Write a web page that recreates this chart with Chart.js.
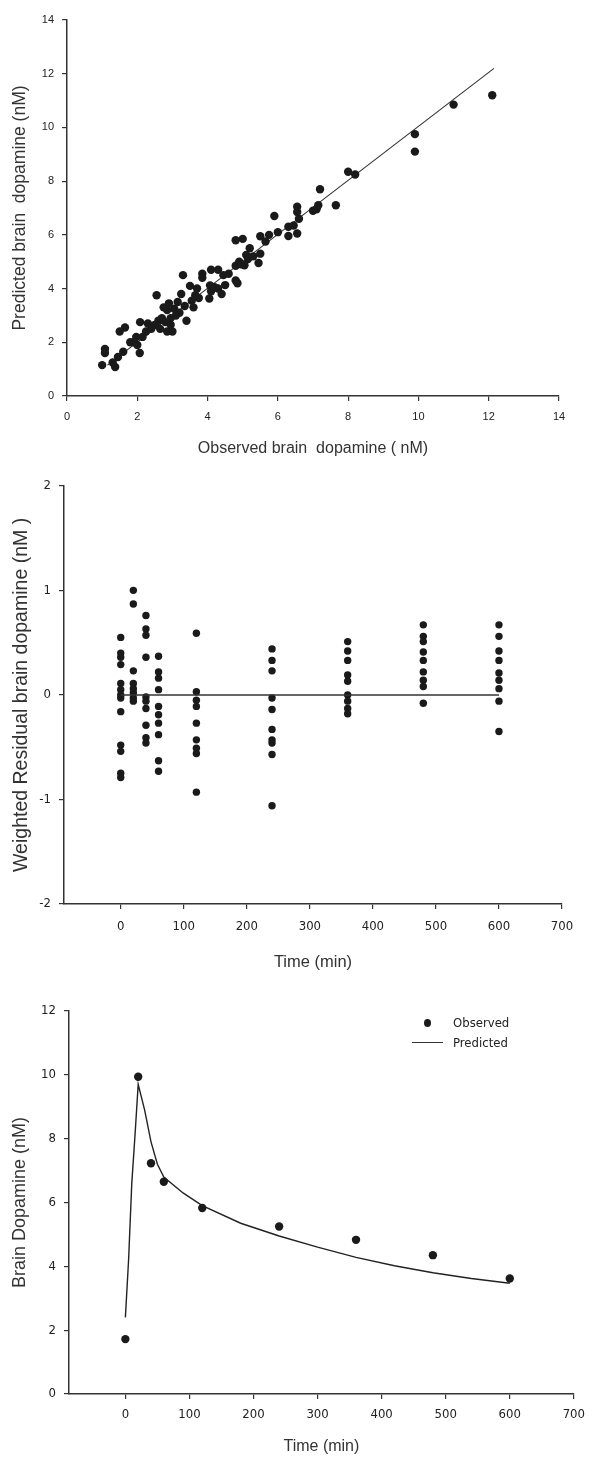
<!DOCTYPE html>
<html>
<head>
<meta charset="utf-8">
<script src="https://cdn.jsdelivr.net/npm/chart.js@4"></script>
<style>
  body { margin: 0; background: #fff; width: 593px; height: 1458px; position: relative; overflow: hidden; }
  canvas { position: absolute; left: 0; }
  .lg { position: absolute; font: 13px 'Liberation Sans Narrow', 'DejaVu Sans Condensed', 'Liberation Sans', sans-serif; color: #222; line-height: 14px; }
</style>
</head>
<body>
<canvas id="c1" width="593" height="470" style="top:0"></canvas>
<canvas id="c2" width="593" height="510" style="top:470px"></canvas>
<canvas id="c3" width="593" height="478" style="top:980px"></canvas>

<div class="lg" style="left:424px;top:1019px;width:7px;height:8px;background:#1a1a1a;border-radius:50%"></div>
<div class="lg" style="left:453px;top:1016px">Observed</div>
<div class="lg" style="left:412px;top:1042px;width:31px;height:1px;background:#333"></div>
<div class="lg" style="left:453px;top:1036px">Predicted</div>

<script>
// --- panel 1 : observed vs predicted
const observedDA = [12.1, 11.0, 9.9, 9.9, 8.0, 8.2, 7.2, 7.65, 7.1, 7.15, 5.9, 6.55, 6.55, 6.6, 6.3, 6.3, 6.55, 5.75, 5.5, 5.0,
  4.8, 5.65, 5.5, 5.45, 5.2, 5.1, 4.9, 5.05, 4.8, 4.8, 4.85, 4.1, 4.3, 4.45, 3.85, 3.85, 4.07, 4.1, 4.05, 4.3,
  4.5, 4.4, 3.3, 3.5, 3.7, 3.65, 3.6, 3.25, 3.4, 3.15, 3.05, 2.9, 2.85, 2.75, 2.55, 2.95, 2.8, 2.6, 2.5, 2.65,
  2.85, 3.0, 2.4, 2.3, 2.08, 2.25, 1.97, 2.0, 2.07, 1.8, 1.65, 1.5, 1.6, 1.45, 1.37, 1.08, 1.08, 1.0, 1.3,
  3.2, 3.35, 3.55, 3.75, 2.95, 2.7, 4.2, 4.6, 5.3, 5.15, 6.0, 6.45, 7.0, 1.9, 2.15, 3.1, 4.95];
const predictedDA = [11.2, 10.85, 9.75, 9.1, 8.35, 8.25, 7.7, 7.1, 6.95, 7.1, 6.7, 7.05, 6.85, 6.6, 6.3, 5.96, 6.05, 6.0, 5.95, 5.85,
  5.8, 5.75, 5.3, 4.95, 5.5, 5.25, 5.0, 4.87, 4.85, 4.3, 4.2, 4.7, 4.7, 4.5, 4.55, 4.4, 4.12, 3.9, 3.63, 4.0,
  4.13, 3.8, 4.5, 4.1, 4.0, 3.75, 3.3, 3.8, 2.8, 3.5, 3.25, 3.45, 3.2, 3.3, 3.75, 2.9, 2.75, 2.8, 2.65, 2.5,
  2.4, 2.4, 2.5, 2.7, 2.75, 2.4, 2.2, 1.9, 1.6, 2.0, 2.55, 2.4, 1.65, 1.45, 1.08, 1.75, 1.6, 1.15, 1.25,
  3.1, 3.35, 3.55, 3.65, 2.65, 2.9, 4.05, 4.55, 5.2, 5.1, 6.1, 6.35, 6.9, 2.0, 2.2, 3.0, 4.9];
const fitX = [1.15, 12.15];
const fitY = [1.15, 12.2];

// --- panel 2 : weighted residuals per sampling time
const residTimes = [0, 20, 40, 60, 120, 240, 360, 480, 600];
const residuals = [
  [0.55, 0.40, 0.36, 0.29, 0.11, 0.05, 0, -0.03, -0.16, -0.48, -0.54, -0.75, -0.79],
  [1.0, 0.87, 0.23, 0.11, 0.06, 0.02, -0.03, -0.06],
  [0.76, 0.63, 0.57, 0.36, -0.02, -0.06, -0.13, -0.29, -0.41, -0.46],
  [0.37, 0.22, 0.16, 0.05, -0.11, -0.19, -0.27, -0.38, -0.63, -0.73],
  [0.59, 0.03, -0.05, -0.11, -0.27, -0.43, -0.51, -0.56, -0.93],
  [0.44, 0.33, 0.23, -0.03, -0.14, -0.33, -0.43, -0.46, -0.57, -1.06],
  [0.51, 0.42, 0.33, 0.19, 0.13, 0, -0.06, -0.13, -0.18],
  [0.67, 0.56, 0.51, 0.41, 0.33, 0.22, 0.14, 0.08, -0.08],
  [0.67, 0.56, 0.42, 0.33, 0.21, 0.14, 0.06, -0.06, -0.35]
];
const zeroLineX = [0, 600];

// --- panel 3 : time course
const obsTime = [0, 20, 40, 60, 120, 240, 360, 480, 600];
const obsDA = [1.72, 9.94, 7.23, 6.65, 5.83, 5.25, 4.83, 4.35, 3.62];
const predTime = [0, 5, 10, 15, 20, 25, 30, 40, 50, 60, 90, 120, 180, 240, 300, 360, 420, 480, 540, 600];
const predDA = [2.4, 4.2, 6.6, 8.1, 9.7, 9.3, 8.9, 7.9, 7.2, 6.8, 6.3, 5.9, 5.35, 4.95, 4.6, 4.28, 4.02, 3.8, 3.62, 3.47];

const timeTicks = [0, 100, 200, 300, 400, 500, 600, 700];

const ink = '#1a1a1a';
const txt = '#222';
const tickFont = { family: "'Liberation Sans', Arial, sans-serif", size: 11 };
const narrowFont = { family: "'Liberation Sans Narrow', 'DejaVu Sans Condensed', 'Liberation Sans', sans-serif", size: 13 };
const titleFamily = "'Liberation Sans', Arial, sans-serif";

function axis(opts) {
  return {
    type: 'linear',
    min: opts.min, max: opts.max,
    grid: { drawOnChartArea: false, drawTicks: true, tickLength: 5, color: '#333', lineWidth: 1.2 },
    border: { display: true, color: '#333', width: 1.5 },
    ticks: { color: txt, font: opts.font, padding: opts.pad, stepSize: opts.step, maxRotation: 0 },
    title: { display: true, text: opts.title, color: '#333', font: { family: titleFamily, size: opts.tsize }, padding: opts.tpad },
    afterBuildTicks: opts.fixed ? (s => { s.ticks = opts.fixed.map(v => ({ value: v })); }) : undefined,
    afterFit: s => { if (opts.w) s.width = opts.w; if (opts.h) s.height = opts.h; }
  };
}

const base = {
  responsive: false,
  animation: false,
  plugins: { legend: { display: false }, tooltip: { enabled: false } }
};

new Chart(document.getElementById('c1'), {
  type: 'scatter',
  data: {
    datasets: [
      {
        data: observedDA.map((x, i) => ({ x: x, y: predictedDA[i] })),
        pointRadius: 4.2, backgroundColor: ink, borderWidth: 0
      },
      {
        type: 'line',
        data: fitX.map((x, i) => ({ x: x, y: fitY[i] })),
        borderColor: '#333', borderWidth: 1.1, pointRadius: 0
      }
    ]
  },
  options: {
    ...base,
    layout: { padding: { left: 0, top: 20, right: 34, bottom: 12 } },
    scales: {
      x: axis({ min: 0, max: 14, step: 2, font: tickFont, pad: 9, title: 'Observed brain  dopamine ( nM)', tsize: 16, tpad: { top: 0, bottom: 0 }, h: 62 }),
      y: axis({ min: 0, max: 14, step: 2, font: tickFont, pad: 8, title: 'Predicted brain  dopamine (nM)', tsize: 17.5, tpad: { top: 10, bottom: 0 }, w: 67 })
    }
  }
});

new Chart(document.getElementById('c2'), {
  type: 'scatter',
  data: {
    datasets: [
      {
        type: 'line',
        data: zeroLineX.map(x => ({ x: x, y: 0 })),
        borderColor: '#333', borderWidth: 1.5, pointRadius: 0
      },
      {
        data: residTimes.flatMap((t, i) => residuals[i].map(v => ({ x: t, y: v }))),
        pointRadius: 3.7, backgroundColor: ink, borderWidth: 0
      }
    ]
  },
  options: {
    ...base,
    layout: { padding: { left: 0, top: 13, right: 31, bottom: 8 } },
    scales: {
      x: axis({ min: -90, max: 700, fixed: timeTicks, font: narrowFont, pad: 10, title: 'Time (min)', tsize: 16.5, tpad: { top: 0, bottom: 0 }, h: 68 }),
      y: axis({ min: -2, max: 2, step: 1, font: narrowFont, pad: 8, title: 'Weighted Residual brain dopamine (nM )', tsize: 19.5, tpad: { top: 10, bottom: 0 }, w: 64 })
    }
  }
});

new Chart(document.getElementById('c3'), {
  type: 'scatter',
  data: {
    datasets: [
      {
        label: 'Observed',
        data: obsTime.map((t, i) => ({ x: t, y: obsDA[i] })),
        pointRadius: 4.2, backgroundColor: ink, borderWidth: 0
      },
      {
        label: 'Predicted',
        type: 'line',
        data: predTime.map((t, i) => ({ x: t, y: predDA[i] })),
        borderColor: '#222', borderWidth: 1.4, pointRadius: 0
      }
    ]
  },
  options: {
    ...base,
    layout: { padding: { left: 0, top: 31, right: 13, bottom: 2 } },
    scales: {
      x: axis({ min: -88, max: 700, fixed: timeTicks, font: narrowFont, pad: 8, title: 'Time (min)', tsize: 16, tpad: { top: 0, bottom: 0 }, h: 62 }),
      y: axis({ min: 0, max: 12, step: 2, font: narrowFont, pad: 8, title: 'Brain Dopamine (nM)', tsize: 18, tpad: { top: 9, bottom: 0 }, w: 69 })
    }
  }
});
</script>
</body>
</html>
